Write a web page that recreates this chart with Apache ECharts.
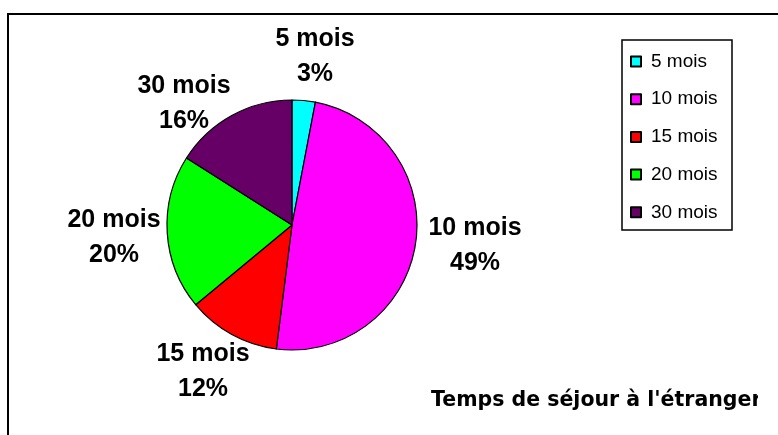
<!DOCTYPE html>
<html>
<head>
<meta charset="utf-8">
<title>Temps de séjour à l'étranger</title>
<script src="https://cdn.jsdelivr.net/npm/echarts@6/dist/echarts.min.js"></script>
<style>
    html, body { margin: 0; padding: 0; background: #fff; }
    #chart { width: 778px; height: 435px; }
</style>
</head>
<body>
<div id="chart"></div>
<script>
// durée du séjour et part des répondants (%)
const categories = ["5 mois", "10 mois", "15 mois", "20 mois", "30 mois"];
const shares = [3, 49, 12, 20, 16];
const sliceColors = ["#00FFFF", "#FF00FF", "#FF0000", "#00FF00", "#660066"];
const titleText = "Temps de séjour à l'étranger";

// centre de chaque étiquette (comme Excel les a posées)
const labelSpots = [[315, 57], [475, 246], [203, 372], [114, 238], [184, 104]];

const chart = echarts.init(document.getElementById("chart"));

chart.setOption({
    backgroundColor: "#fff",
    animation: false,
    title: {
        text: titleText,
        left: 431,
        top: 390,
        padding: 0,
        textStyle: {
            fontFamily: "DejaVu Sans",
            fontWeight: "bold",
            fontSize: 20.5,
            color: "#000",
        },
    },
    legend: {
        orient: "vertical",
        left: 630,
        top: 52,
        padding: 0,
        icon: "rect",
        itemWidth: 10,
        itemHeight: 10,
        itemGap: 18.7,
        data: categories,
        textStyle: {
            fontFamily: "Liberation Sans",
            fontSize: 19,
            lineHeight: 18,
            color: "#000",
            padding: [0, 0, 0, 5],
        },
    },
    graphic: [
        {
            // cadre extérieur (seuls les bords gauche et haut sont visibles)
            type: "rect",
            shape: { x: 8, y: 14, width: 800, height: 440 },
            style: { fill: null, stroke: "#000", lineWidth: 2 },
            silent: true,
        },
        {
            // cadre de la légende
            type: "rect",
            shape: { x: 622, y: 40, width: 110, height: 190 },
            style: { fill: null, stroke: "#000", lineWidth: 1.5 },
            silent: true,
        },
        {
            // le titre est coupé à droite
            type: "rect",
            z: 100,
            shape: { x: 758, y: 385, width: 30, height: 35 },
            style: { fill: "#fff" },
            silent: true,
        },
    ],
    series: [
        {
            type: "pie",
            center: [292, 225],
            radius: 125,
            startAngle: 90,
            clockwise: true,
            data: categories.map(function (name, i) {
                return {
                    name: name,
                    value: shares[i],
                    itemStyle: { color: sliceColors[i] },
                };
            }),
            itemStyle: {
                borderColor: "#000",
                borderWidth: 1.2,
            },
            label: {
                show: true,
                formatter: function (p) {
                    return p.name + "\n" + p.value + "%";
                },
                fontFamily: "Liberation Sans",
                fontWeight: "bold",
                fontSize: 25,
                lineHeight: 35,
                color: "#000",
                align: "center",
            },
            labelLine: { show: false },
            labelLayout: function (params) {
                const spot = labelSpots[params.dataIndex];
                return {
                    x: spot[0],
                    y: spot[1],
                    align: "center",
                    verticalAlign: "middle",
                };
            },
            emphasis: { disabled: true },
        },
    ],
});
</script>
</body>
</html>
